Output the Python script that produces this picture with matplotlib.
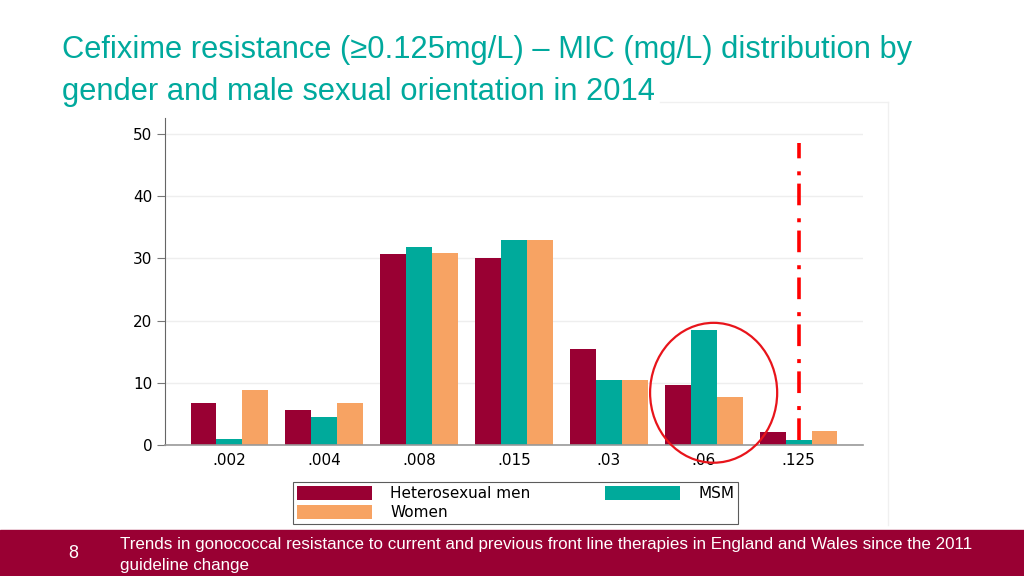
import matplotlib
matplotlib.use("Agg")
import matplotlib.pyplot as plt
from matplotlib.patches import Ellipse, Rectangle
from matplotlib.lines import Line2D
from matplotlib import font_manager
import numpy as np

# MIC (mg/L) categories and % of isolates per group
mic_labels = [".002", ".004", ".008", ".015", ".03", ".06", ".125"]
hetero = [6.8, 5.6, 30.7, 30.0, 15.4, 9.6, 2.1]
msm = [1.0, 4.5, 31.8, 33.0, 10.5, 18.5, 0.8]
women = [8.9, 6.8, 30.9, 33.0, 10.5, 7.8, 2.2]
series_names = ["Heterosexual men", "MSM", "Women"]
y_ticks = [0, 10, 20, 30, 40, 50]

title_lines = ["Cefixime resistance (\u22650.125mg/L) \u2013 MIC (mg/L) distribution by",
               "gender and male sexual orientation in 2014"]
footer_lines = ["Trends in gonococcal resistance to current and previous front line therapies in England and Wales since the 2011",
                "guideline change"]

c_het = "#990033"
c_msm = "#00AA9B"
c_wom = "#F7A363"
c_title = "#00A99D"

names = {f.name for f in font_manager.fontManager.ttflist}
narrow = "Liberation Sans Narrow" if "Liberation Sans Narrow" in names else "Liberation Sans"
plt.rcParams["font.family"] = ["DejaVu Sans"]

W, H = 1024, 576
fig = plt.figure(figsize=(10.24, 5.76), dpi=100)

def fx(px):
    return px / W

def fy(py):
    return 1 - py / H

# faint frame of the pasted chart
fig.add_artist(Line2D([fx(660), fx(888)], [fy(102), fy(102)], color="#f0f0f0", lw=1))
fig.add_artist(Line2D([fx(888), fx(888)], [fy(102), fy(525)], color="#f0f0f0", lw=1))

ax = fig.add_axes([fx(165), fy(445), fx(863) - fx(165), fy(118) - fy(445)])
x = np.arange(len(mic_labels))
w = 0.274
ax.bar(x - w, hetero, w, color=c_het, label=series_names[0], zorder=2)
ax.bar(x, msm, w, color=c_msm, label=series_names[1], zorder=2)
ax.bar(x + w, women, w, color=c_wom, label=series_names[2], zorder=2)

ax.set_xlim(-0.68, len(mic_labels) - 1 + 0.68)
ax.set_ylim(0, 52.6)
ax.set_yticks(y_ticks)
ax.set_xticks(x)
ax.set_xticklabels(mic_labels)
ax.tick_params(axis="x", length=0, pad=6, labelsize=11)
ax.tick_params(axis="y", length=6, width=0.8, color="#777777", pad=3, labelsize=11)
for s in ["top", "right"]:
    ax.spines[s].set_visible(False)
ax.spines["left"].set_color("#666666")
ax.spines["bottom"].set_color("#999999")
ax.spines["bottom"].set_linewidth(1.2)
ax.yaxis.grid(True, color="#eeeeee", lw=1, zorder=0)
ax.set_axisbelow(True)

# resistance breakpoint line and highlight circle
ax.plot([6, 6], [0.8, 48.6], color="#ff0000", lw=2.6,
        linestyle=(0, (6.0, 2.3, 1.1, 3.6)), zorder=3, solid_capstyle="butt")
ax.add_patch(Ellipse((5.105, 8.4), 1.34, 22.5, fill=False, ec="#e8141b", lw=1.6,
                     clip_on=False, zorder=4))

handles, labels = ax.get_legend_handles_labels()
order = [0, 2, 1]
leg = fig.legend([handles[i] for i in order], [labels[i] for i in order], ncol=2,
                 loc="lower left", mode="expand",
                 bbox_to_anchor=(fx(293), fy(524), fx(738) - fx(293), fy(475) - fy(524)),
                 fontsize=11, handlelength=4.9, handleheight=1.0, frameon=True,
                 fancybox=False, edgecolor="#333333", borderpad=0.25, labelspacing=0.25,
                 columnspacing=1.0, handletextpad=1.2, borderaxespad=0)
leg.get_frame().set_linewidth(0.8)

# title
t1 = fig.text(fx(62), fy(58), title_lines[0], color=c_title, fontsize=28,
              family=[narrow, "DejaVu Sans"], va="baseline", ha="left")
t2 = fig.text(fx(62), fy(100), title_lines[1], color=c_title, fontsize=28,
              family=[narrow, "DejaVu Sans"], va="baseline", ha="left")

# footer band
fig.add_artist(Rectangle((0, 0), 1, fy(530), transform=fig.transFigure, color="#990033", zorder=0))
fig.text(fx(73), fy(554), "8", color="white", fontsize=13, va="center", ha="center",
         family=["Liberation Sans"])
f1 = fig.text(fx(120), fy(549), footer_lines[0], color="white", fontsize=12,
              family=[narrow, "DejaVu Sans"], va="baseline", ha="left")
f2 = fig.text(fx(120), fy(570), footer_lines[1], color="white", fontsize=12,
              family=[narrow, "DejaVu Sans"], va="baseline", ha="left")

# fit text widths to the reference
fig.canvas.draw()
r = fig.canvas.get_renderer()
s = 850 / t1.get_window_extent(r).width
t1.set_fontsize(28 * s)
t2.set_fontsize(28 * s)
s2 = 850 / f1.get_window_extent(r).width
f1.set_fontsize(12 * s2)
f2.set_fontsize(12 * s2)

fig.savefig("out.png", dpi=100)
